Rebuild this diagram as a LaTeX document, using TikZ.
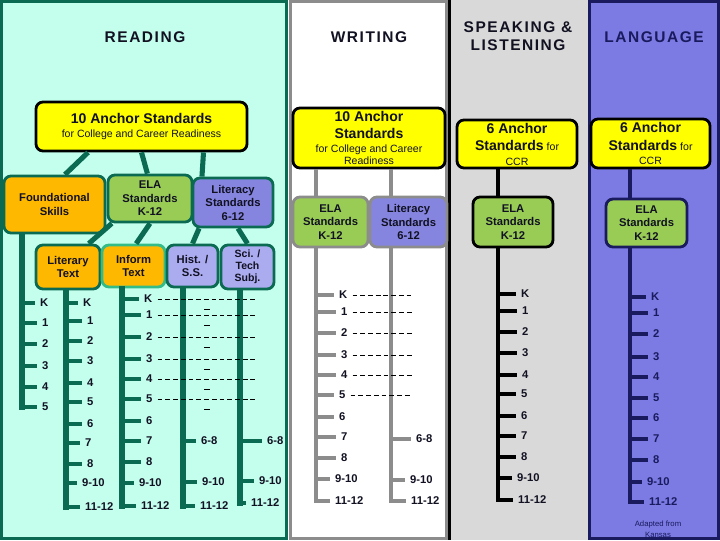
\documentclass[tikz,border=0pt]{standalone}
\usepackage{fontspec}
\setmainfont{Liberation Sans}
\newfontfamily\headfont[LetterSpace=10]{Liberation Sans}
\usetikzlibrary{calc,positioning}
\definecolor{rdbg}{HTML}{C4FFEE}
\definecolor{rdteal}{HTML}{0B6B52}
\definecolor{infoedge}{HTML}{33BB88}
\definecolor{anchoryel}{HTML}{FFFF00}
\definecolor{skillorange}{HTML}{FFB800}
\definecolor{elagreen}{HTML}{99CC55}
\definecolor{litpurple}{HTML}{8585E0}
\definecolor{subjpurple}{HTML}{ABABF0}
\definecolor{wrgray}{HTML}{8C8C8C}
\definecolor{spbg}{HTML}{D9D9D9}
\definecolor{lgbg}{HTML}{7B7BE3}
\definecolor{lgnavy}{HTML}{1A1A5E}
\definecolor{ink}{HTML}{111122}
\newcommand\anchorbig{\bfseries\fontsize{10}{12}\selectfont}
\newcommand\anchorsmall{\mdseries\fontsize{7.5}{9}\selectfont}

\begin{document}
\begin{tikzpicture}[x=0.025cm,y=-0.025cm,
  head/.style={font=\headfont\bfseries\fontsize{11}{12.8}\selectfont,align=center,text=ink},
  box/.style 2 args={draw,rounded corners=5pt,line width=2pt,align=center,text=ink,
    minimum width=#1*0.025cm,minimum height=#2*0.025cm,inner sep=0pt,
    font=\bfseries\fontsize{8}{9.6}\selectfont},
  lbl/.style={anchor=west,inner sep=0pt,inner xsep=3.5pt,text=ink,font=\bfseries\fontsize{8}{9}\selectfont},
  rdline/.style={draw=rdteal,line width=3.6pt},
  rdtick/.style={draw=rdteal,line width=3.2pt},
  wrline/.style={draw=wrgray,line width=3.2pt},
  wrtick/.style={draw=wrgray,line width=3pt},
  spline/.style={draw=black,line width=3.2pt},
  sptick/.style={draw=black,line width=3pt},
  lgline/.style={draw=lgnavy,line width=3.2pt},
  lgtick/.style={draw=lgnavy,line width=3pt},
  dashrow/.style={draw=black,line width=0.6pt,dash pattern=on 3.4pt off 2.1pt},
]
\useasboundingbox (0,0) rectangle (720,540);

% the four panels
\fill[rdbg] (0,0) rectangle (288,540);
\draw[rdteal,line width=2.2pt] (1.5,1.5) rectangle (286.5,538.5);
\fill[white] (289,0) rectangle (448,540);
\draw[wrgray,line width=2.2pt] (290.5,1.5) rectangle (447,538.5);
\fill[spbg] (448,0) rectangle (588,540);
\draw[black,line width=2.2pt] (449.5,0) -- (449.5,540);
\fill[lgbg] (588,0) rectangle (720,540);
\draw[lgnavy,line width=2.2pt] (589.5,1.5) rectangle (718.5,538.5);

\node[head] (rdTitle) at (145,37) {READING};
\node[head] (wrTitle) at (369,37) {WRITING};
\node[head] (spTitle) at (518,36) {SPEAKING \&\\LISTENING};
\node[head,text=lgnavy] (lgTitle) at (654,37) {LANGUAGE};

% reading
\node[box={211}{49},fill=anchoryel,draw=black] (rdAnchor) at (141.5,126.5)
 {{\anchorbig 10 Anchor Standards}\\[1pt]{\anchorsmall for College and Career Readiness}};
\node[box={101}{57},fill=skillorange,draw=rdteal] (rdFound) at (54.5,204.5) {Foundational\\Skills};
\node[box={84}{47},fill=elagreen,draw=rdteal] (rdEla) at (150,198.5) {ELA\\Standards\\K-12};
\node[box={80}{49},fill=litpurple,draw=rdteal] (rdLit) at (233,202.5) {Literacy\\Standards\\6-12};
\node[box={64}{44},fill=skillorange,draw=rdteal] (rdLitText) at (68,267) {Literary\\Text};
\node[box={63}{42},fill=skillorange,draw=infoedge] (rdInfo) at (133.5,266) {Inform\\Text};
\node[box={51}{42},fill=subjpurple,draw=rdteal] (rdHist) at (192.5,266) {Hist. /\\S.S.};
\node[box={53}{44},fill=subjpurple,draw=rdteal,font=\bfseries\fontsize{7.5}{8.5}\selectfont] (rdSci) at (247.5,267) {Sci. /\\Tech\\Subj.};

\draw[rdline] ($(rdAnchor.south west)!.25!(rdAnchor.south east)$) -- ($(rdFound.north west)!.6!(rdFound.north east)$);
\draw[rdline] ($(rdAnchor.south west)!.5!(rdAnchor.south east)$) -- ($(rdEla.north west)!.47!(rdEla.north east)$);
\draw[rdline] ($(rdAnchor.south west)!.79!(rdAnchor.south east)$) -- ($(rdLit.north west)!.125!(rdLit.north east)$);
\draw[rdline] ($(rdEla.south west)!.06!(rdEla.south east)$) -- ($(rdLitText.north west)!.81!(rdLitText.north east)$);
\draw[rdline] ($(rdEla.south west)!.5!(rdEla.south east)$) -- ($(rdInfo.north west)!.54!(rdInfo.north east)$);
\draw[rdline] ($(rdLit.south west)!.09!(rdLit.south east)$) -- ($(rdHist.north west)!.5!(rdHist.north east)$);
\draw[rdline] ($(rdLit.south west)!.56!(rdLit.south east)$) -- ($(rdSci.north west)!.5!(rdSci.north east)$);

\coordinate (fdc) at (22,0);
\coordinate (ltc) at (66,0);
\coordinate (inc) at (122,0);
\coordinate (hsc) at (183,0);
\coordinate (scc) at (240,0);
\coordinate (rdDash) at (255,0);

\foreach \t/\x/\y [count=\i] in {K/41/303,1/43/323,2/43/344,3/43/366,4/43/387,5/43/407}
  \node[lbl] (fd\i) at (\x-6,\y) {\t};
\foreach \t/\x/\y [count=\i] in {K/84/303,1/88/321,2/88/341,3/88/361,4/88/383,5/88/402,
    6/88/424,7/86/443,8/88/464,9-10/83/483,11-12/86/507}
  \node[lbl] (lt\i) at (\x-6,\y) {\t};
\foreach \t/\x/\y [count=\i] in {K/145/299,1/147/315,2/147/337,3/147/359,4/147/379,5/147/399,
    6/147/421,7/147/441,8/147/462,9-10/140/483,11-12/142/506}
  \node[lbl] (in\i) at (\x-6,\y) {\t};
\foreach \t/\x/\y [count=\i] in {6-8/202/441,9-10/203/482,11-12/201/506}
  \node[lbl] (hs\i) at (\x-6,\y) {\t};
\foreach \t/\x/\y [count=\i] in {6-8/268/441,9-10/260/481,11-12/252/503}
  \node[lbl] (sc\i) at (\x-6,\y) {\t};

\draw[rdline,line cap=rect] (rdFound.south -| fdc) -- (fdc |- fd6.west);
\draw[rdline,line cap=rect] (rdLitText.south -| ltc) -- (ltc |- lt11.west);
\draw[rdline,line cap=rect] (rdInfo.south -| inc) -- (inc |- in11.west);
\draw[rdline,line cap=rect] (rdHist.south -| hsc) -- (hsc |- hs3.west);
\draw[rdline,line cap=rect] (rdSci.south -| scc) -- (scc |- sc3.west);
\foreach \i in {1,...,6} \draw[rdtick] (fdc |- fd\i.west) -- (fd\i.west);
\foreach \i in {1,...,11} \draw[rdtick] (ltc |- lt\i.west) -- (lt\i.west);
\foreach \i in {1,...,11} \draw[rdtick] (inc |- in\i.west) -- (in\i.west);
\foreach \i in {1,2,3} {
  \draw[rdtick] (hsc |- hs\i.west) -- (hs\i.west);
  \draw[rdtick] (scc |- sc\i.west) -- (sc\i.west);
}
\foreach \i in {1,...,6} {
  \draw[dashrow] (in\i.east) -- (in\i.east -| rdDash);
  \draw[black,line width=0.6pt] ($(in\i.east -| rdDash)+(-51,10)$) -- ++(6,0);
}

% writing
\node[box={152}{60},fill=anchoryel,draw=black] (wrAnchor) at (369,138)
 {{\anchorbig 10 Anchor}\\[2pt]{\anchorbig Standards}\\[0.7pt]{\anchorsmall for College and Career}\\[-1.5pt]{\anchorsmall Readiness}};
\node[box={75}{50},fill=elagreen,draw=wrgray] (wrEla) at (330.5,222) {ELA\\Standards\\K-12};
\node[box={77}{50},fill=litpurple,draw=wrgray] (wrLit) at (408.5,222) {Literacy\\Standards\\6-12};

\coordinate (wec) at (316,0);
\coordinate (wlc) at (391,0);
\coordinate (wrDash) at (412,0);
\foreach \t/\x/\y [count=\i] in {K/340/295,1/342/312,2/342/333,3/342/355,4/342/375,5/340/395,
    6/340/417,7/342/437,8/342/458,9-10/336/479,11-12/336/501}
  \node[lbl] (we\i) at (\x-6,\y) {\t};
\foreach \t/\x/\y [count=\i] in {6-8/417/439,9-10/411/480,11-12/412/501}
  \node[lbl] (wl\i) at (\x-6,\y) {\t};

\draw[wrline] (wrAnchor.south -| wec) -- (wrEla.north -| wec);
\draw[wrline] (wrAnchor.south -| wlc) -- (wrLit.north -| wlc);
\draw[wrline,line cap=rect] (wrEla.south -| wec) -- (wec |- we11.west);
\draw[wrline,line cap=rect] (wrLit.south -| wlc) -- (wlc |- wl3.west);
\foreach \i in {1,...,11} \draw[wrtick] (wec |- we\i.west) -- (we\i.west);
\foreach \i in {1,2,3} \draw[wrtick] (wlc |- wl\i.west) -- (wl\i.west);
\foreach \i in {1,...,6} \draw[dashrow] (we\i.east) -- (we\i.east -| wrDash);

% speaking and listening
\node[box={120}{48},fill=anchoryel,draw=black] (spAnchor) at (517,144)
 {{\anchorbig 6 Anchor}\\[3pt]{\anchorbig Standards}{\anchorsmall\ for}\\[0.5pt]{\anchorsmall CCR}};
\node[box={80}{50},fill=elagreen,draw=black] (spEla) at (513,222) {ELA\\Standards\\K-12};
\coordinate (spc) at (498,0);
\foreach \t/\x/\y [count=\i] in {K/522/294,1/523/311,2/523/332,3/523/353,4/523/375,5/522/394,
    6/522/416,7/522/436,8/522/457,9-10/518/478,11-12/519/500}
  \node[lbl] (sp\i) at (\x-6,\y) {\t};
\draw[spline] (spAnchor.south -| spc) -- (spEla.north -| spc);
\draw[spline,line cap=rect] (spEla.south -| spc) -- (spc |- sp11.west);
\foreach \i in {1,...,11} \draw[sptick] (spc |- sp\i.west) -- (sp\i.west);

% language
\node[box={119}{49},fill=anchoryel,draw=black] (lgAnchor) at (650.5,143.5)
 {{\anchorbig 6 Anchor}\\[3pt]{\anchorbig Standards}{\anchorsmall\ for}\\[0.5pt]{\anchorsmall CCR}};
\node[box={81}{48},fill=elagreen,draw=lgnavy] (lgEla) at (646.5,223) {ELA\\Standards\\K-12};
\coordinate (lgc) at (630,0);
\foreach \t/\x/\y [count=\i] in {K/652/297,1/654/313,2/654/334,3/654/357,4/654/377,5/654/398,
    6/654/418,7/654/439,8/654/460,9-10/648/482,11-12/650/502}
  \node[lbl,text=lgnavy] (lg\i) at (\x-6,\y) {\t};
\draw[lgline] (lgAnchor.south -| lgc) -- (lgEla.north -| lgc);
\draw[lgline,line cap=rect] (lgEla.south -| lgc) -- (lgc |- lg11.west);
\foreach \i in {1,...,11} \draw[lgtick] (lgc |- lg\i.west) -- (lg\i.west);

\node[font=\fontsize{5.5}{7.8}\selectfont,text=lgnavy,align=center] (lgNote) at (658,529) {Adapted from\\Kansas};
\end{tikzpicture}
\end{document}
